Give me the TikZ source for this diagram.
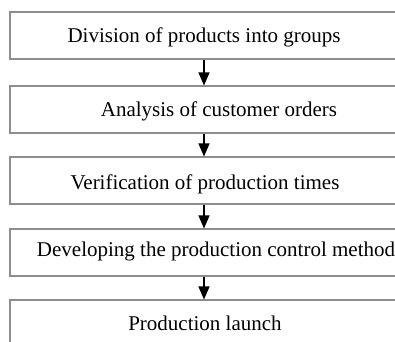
\documentclass[tikz,border=0pt]{standalone}
\usepackage{fontspec}
\setmainfont{Liberation Serif}
\usetikzlibrary{arrows.meta}

\definecolor{boxgray}{HTML}{8E8E8E}

\begin{document}
\begin{tikzpicture}[x=1bp,y=-1bp,
    stagebox/.style={draw=boxgray, line width=1.1bp, rectangle, inner sep=0pt,
      minimum width=388bp, minimum height=47bp},
    stagetext/.style={anchor=base, inner sep=0pt, font=\fontsize{21bp}{24bp}\selectfont},
    flowarrow/.style={-{Triangle[width=11bp,length=13bp]}, line width=1.3bp}]
  \useasboundingbox (0,0) rectangle (395,342);
  \clip (0,0) rectangle (395,342);

  % boxes
  \node[stagebox] (b1) at (204,35.5) {};
  \node[stagebox] (b2) at (204,109.5) {};
  \node[stagebox] (b3) at (204,180.5) {};
  \node[stagebox] (b4) at (204,252.5) {};
  \node[stagebox] (b5) at (204,323.5) {};

  % texts
  \node[stagetext] (t1) at (204,42) {Division of products into groups};
  \node[stagetext] (t2) at (219,116) {Analysis of customer orders};
  \node[stagetext] (t3) at (205,189) {Verification of production times};
  \node[stagetext] (t4) at (216,256) {Developing the production control method};
  \node[stagetext] (t5) at (205,330) {Production launch};

  % arrows
  \draw[flowarrow] (b1.south) -- (b2.north);
  \draw[flowarrow] (b2.south) -- (b3.north);
  \draw[flowarrow] (b3.south) -- (b4.north);
  \draw[flowarrow] (b4.south) -- (b5.north);

\end{tikzpicture}
\end{document}
